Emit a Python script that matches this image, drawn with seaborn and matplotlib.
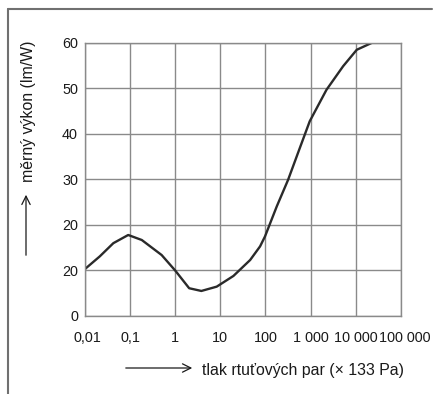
import matplotlib
matplotlib.use("Agg")
import matplotlib.pyplot as plt
import matplotlib.transforms as mtransforms
from matplotlib.lines import Line2D
import seaborn as sns
import pandas as pd
import numpy as np

# pressure (x 133 Pa) and luminous efficacy (lm/W)
pressure = [0.01, 0.0214, 0.0427, 0.0912, 0.182, 0.501, 1.0, 2.04, 3.80,
            8.32, 19.5, 45.7, 75.9, 97.7, 178, 316, 575, 955, 2240,
            5250, 10500, 22400]
efficacy = [10.3, 13.1, 16.0, 17.8, 16.7, 13.4, 10.0, 6.1, 5.5,
            6.45, 8.8, 12.3, 15.3, 17.5, 24.1, 29.9, 36.9, 42.8, 49.7,
            54.9, 58.5, 60.0]

x_ticks = [0.01, 0.1, 1, 10, 100, 1000, 10000, 100000]
x_labels = ["0,01", "0,1", "1", "10", "100", "1 000", "10 000", "100 000"]
y_ticks = [0, 10, 20, 30, 40, 50, 60]
y_labels = ["0", "20", "20", "30", "40", "50", "60"]

df = pd.DataFrame({"p": pressure, "eta": efficacy})

sns.set_theme(style="white")
plt.rcParams["font.family"] = ["Liberation Sans", "DejaVu Sans"]

fig = plt.figure(figsize=(4.33, 3.94), dpi=100)
ax = fig.add_axes([0.196, 0.198, 0.730, 0.693])

sns.lineplot(data=df, x="p", y="eta", ax=ax, color="#2a2a2a", linewidth=1.7)

ax.set_xscale("log")
ax.set_xlim(0.01, 100000)
ax.set_ylim(0, 60)
ax.set_xticks(x_ticks)
ax.set_xticklabels(x_labels, fontsize=10.4, color="#1a1a1a")
ax.set_yticks(y_ticks)
ax.set_yticklabels(y_labels, fontsize=10.4, color="#1a1a1a")
ax.minorticks_off()
ax.tick_params(axis="both", length=0)
ax.tick_params(axis="x", pad=11)
ax.tick_params(axis="y", pad=5)
ax.grid(True, color="#8a8a8a", linewidth=1.0)
for s in ax.spines.values():
    s.set_color("#8a8a8a")
    s.set_linewidth(1.0)
ax.set_xlabel("")
ax.set_ylabel("")

# nudge the outer x tick labels slightly right, as in the reference
xlabs = ax.get_xticklabels()
for lab, dx in ((xlabs[0], 3), (xlabs[-1], 4)):
    lab.set_transform(lab.get_transform() +
                      mtransforms.ScaledTranslation(dx / 100, 0, fig.dpi_scale_trans))

# axis labels with arrows
fig.text(202 / 433, 1 - 370 / 394, "tlak rtuťových par (× 133 Pa)",
         ha="left", va="center", fontsize=11.4, color="#1a1a1a")
fig.text(29 / 433, 1 - 111.5 / 394, "měrný výkon (lm/W)", rotation=90,
         ha="center", va="center", fontsize=11.4, color="#1a1a1a")
fig.add_artist(matplotlib.patches.FancyArrowPatch(
    (123 / 433, 1 - 368 / 394), (195 / 433, 1 - 368 / 394),
    transform=fig.transFigure, arrowstyle="->,head_length=6,head_width=3",
    color="#1a1a1a", linewidth=0.9))
fig.add_artist(matplotlib.patches.FancyArrowPatch(
    (26 / 433, 1 - 258 / 394), (26 / 433, 1 - 192 / 394),
    transform=fig.transFigure, arrowstyle="->,head_length=6,head_width=3",
    color="#1a1a1a", linewidth=0.9))

# partial frame (top and left edges)
fig.add_artist(Line2D([8 / 433, 432 / 433], [1 - 9 / 394, 1 - 9 / 394],
                      transform=fig.transFigure, color="#707070", linewidth=1.5))
fig.add_artist(Line2D([8 / 433, 8 / 433], [1 - 9 / 394, 0],
                      transform=fig.transFigure, color="#707070", linewidth=1.5))

fig.savefig("out.png", dpi=100, facecolor="white")
